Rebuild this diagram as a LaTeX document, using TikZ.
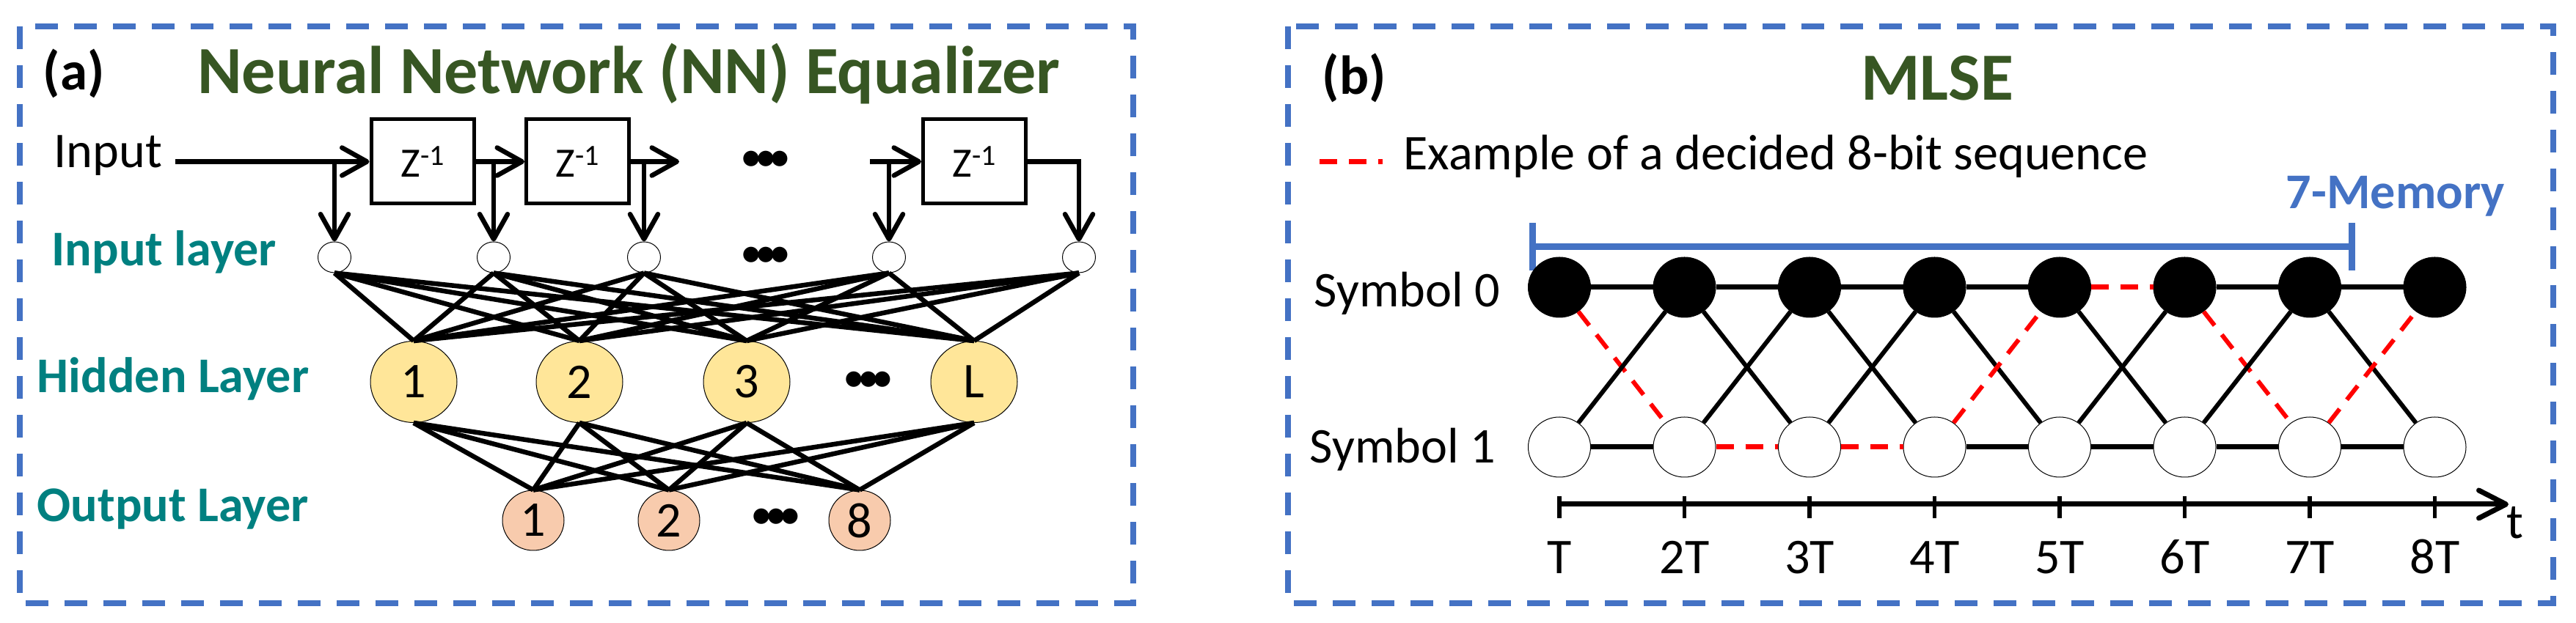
\documentclass[tikz,border=0pt]{standalone}
\usepackage{fontspec}
\setmainfont{Carlito}
\usetikzlibrary{arrows.meta,shapes.geometric}

\definecolor{titlegreen}{RGB}{55,86,35}
\definecolor{layerteal}{RGB}{0,128,128}
\definecolor{frameblue}{RGB}{68,114,196}
\definecolor{hiddenfill}{RGB}{255,230,153}
\definecolor{outfill}{RGB}{248,203,173}

\newcommand{\zinv}{Z\raisebox{1.6mm}{\fontsize{11.4pt}{13pt}\selectfont -1}}
\newcommand{\bdots}{{\fontsize{17pt}{17pt}\selectfont\textbullet\kern-1mm\textbullet\kern-1mm\textbullet}}

\tikzset{
  txt/.style={font=\fontsize{19.4pt}{23pt}\selectfont, inner sep=0pt},
  heading/.style={font=\fontsize{26.2pt}{30pt}\selectfont\bfseries, text=titlegreen, inner sep=0pt},
  tag/.style={font=\fontsize{21.3pt}{25pt}\selectfont\bfseries, inner sep=0pt},
  layer/.style={font=\fontsize{19.4pt}{23pt}\selectfont\bfseries, text=layerteal, inner sep=0pt},
  memtxt/.style={font=\fontsize{19.4pt}{23pt}\selectfont\bfseries, text=frameblue, inner sep=0pt},
  panel/.style={draw=frameblue, line width=0.8mm, dash pattern=on 3.1mm off 2.2mm},
  delay/.style={draw, line width=0.5mm, minimum width=1.40cm, minimum height=1.15cm, inner sep=0pt,
    font=\fontsize{16.2pt}{19pt}\selectfont},
  innode/.style={ellipse, draw, line width=0.1mm, minimum width=0.45cm, minimum height=0.42cm, inner sep=0pt},
  hidnode/.style={ellipse, draw, line width=0.1mm, fill=hiddenfill, minimum width=1.18cm,
    minimum height=1.11cm, inner sep=0pt, font=\fontsize{19.4pt}{23pt}\selectfont},
  outnode/.style={ellipse, draw, line width=0.1mm, fill=outfill, minimum width=0.84cm,
    minimum height=0.82cm, inner sep=0pt, font=\fontsize{19.4pt}{23pt}\selectfont},
  flow/.style={line width=0.65mm, -{Straight Barb[length=3.4mm,width=3.8mm,round]}},
  link/.style={line width=0.65mm},
  zero/.style={ellipse, draw, fill=black, line width=0.1mm, minimum width=0.85cm, minimum height=0.82cm, inner sep=0pt},
  one/.style={ellipse, draw, fill=white, line width=0.1mm, minimum width=0.85cm, minimum height=0.82cm, inner sep=0pt},
  level/.style={line width=0.7mm},
  cross/.style={line width=0.6mm},
  decided/.style={red, line width=0.7mm, dash pattern=on 2.4mm off 1.6mm},
  decidedx/.style={red, line width=0.6mm, dash pattern=on 2.4mm off 1.6mm},
  memory/.style={frameblue, line width=0.9mm, {Bar[width=6.5mm]}-{Bar[width=6.5mm]}},
  axis/.style={line width=0.7mm, -{Straight Barb[length=3.7mm,width=3.8mm,round]}},
  tick/.style={line width=0.55mm}
}

\begin{document}
\begin{tikzpicture}
  \useasboundingbox (0,0) rectangle (35.12,-8.5);

  % Panel frames
  \draw[panel] (0.27,-0.36) rectangle (15.45,-8.23);
  \draw[panel] (17.56,-0.36) rectangle (34.81,-8.23);

  % (a) NN equalizer
  \node[tag, anchor=base west] (taga) at (0.58,-1.23) {(a)};
  \node[heading, anchor=base] (nnhead) at (8.57,-1.28) {Neural Network (NN) Equalizer};

  % Tapped delay line
  \node[txt, anchor=base west] (inp) at (0.73,-2.29) {Input};
  \node[delay] (z1) at (5.76,-2.205) {\zinv};
  \node[delay] (z2) at (7.875,-2.205) {\zinv};
  \node[delay] (z3) at (13.285,-2.205) {\zinv};
  \node[txt] (tapdots) at (10.44,-2.20) {\bdots};
  \coordinate (gapA) at (9.26,-2.205);
  \coordinate (gapB) at (11.86,-2.205);

  % Input layer
  \node[layer, anchor=base west] (inlab) at (0.70,-3.63) {Input layer};
  \foreach \k/\xx in {1/4.56,2/6.73,3/8.78,4/12.12,5/14.71}
    \node[innode] (in\k) at (\xx,-3.51) {};
  \node[txt] (indots) at (10.44,-3.51) {\bdots};

  \draw[flow, shorten <=1.7mm] (inp.east |- z1.west) -- (z1.west);
  \draw[flow] (z1.east) -- (z2.west);
  \draw[flow] (z2.east) -- (gapA);
  \draw[flow] (gapB) -- (z3.west);
  \draw[flow] (z3.east) -| (in5.north);
  \foreach \k in {1,...,4}
    \draw[flow] (in\k |- z1.west) -- (in\k.north);

  % Hidden layer
  \node[layer, anchor=base west] (hidlab) at (0.50,-5.36) {Hidden Layer};
  \foreach \k/\xx in {1/5.64,2/7.90,3/10.18,L/13.28}
    \node[hidnode] (h\k) at (\xx,-5.21) {\k};
  \node[txt] (hdots) at (11.84,-5.21) {\bdots};

  % Output layer
  \node[layer, anchor=base west] (outlab) at (0.50,-7.12) {Output Layer};
  \foreach \k/\xx in {1/7.27,2/9.12,8/11.72}
    \node[outnode] (o\k) at (\xx,-7.10) {\k};
  \node[txt] (odots) at (10.58,-7.08) {\bdots};

  % Weights
  \foreach \i in {1,...,5}
    \foreach \j in {1,2,3,L}
      \draw[link] (in\i.south) -- (h\j.north);
  \foreach \j in {1,2,3,L}
    \foreach \k in {1,2,8}
      \draw[link] (h\j.south) -- (o\k.north);

  % (b) MLSE
  \node[tag, anchor=base west] (tagb) at (18.02,-1.29) {(b)};
  \node[heading, anchor=base] (mlsehead) at (26.41,-1.37) {MLSE};

  % Legend
  \coordinate (legA) at (17.99,-2.21);
  \draw[decided] (legA) -- ++(0.86,0);
  \node[txt, anchor=base west] (legtxt) at (19.13,-2.32) {Example of a decided 8-bit sequence};

  % Memory span
  \coordinate (memL) at (20.85,-3.37);
  \coordinate (memR) at (32.11,-3.37);
  \draw[memory] (memL) -- (memR);
  \node[memtxt, anchor=base west] (memlab) at (31.16,-2.85) {7-Memory};

  % Trellis
  \node[txt, anchor=base west] (sym0) at (17.91,-4.19) {Symbol 0};
  \node[txt, anchor=base west] (sym1) at (17.85,-6.32) {Symbol 1};
  \foreach \i in {1,...,8} {
    \node[zero] (zero\i) at ({21.26+1.705*(\i-1)},-3.92) {};
    \node[one] (one\i) at ({21.26+1.705*(\i-1)},-6.10) {};
  }

  \foreach \i/\j in {1/2,2/3,3/4,4/5,6/7,7/8}
    \draw[level] (zero\i) -- (zero\j);
  \draw[decided] (zero5) -- (zero6);
  \foreach \i/\j in {1/2,4/5,5/6,6/7,7/8}
    \draw[level] (one\i) -- (one\j);
  \draw[decided] (one2) -- (one3);
  \draw[decided] (one3) -- (one4);

  \foreach \i/\j in {2/3,3/4,4/5,5/6,7/8}
    \draw[cross] (zero\i) -- (one\j);
  \draw[decidedx] (zero1) -- (one2);
  \draw[decidedx] (zero6) -- (one7);
  \foreach \i/\j in {1/2,2/3,3/4,5/6,6/7}
    \draw[cross] (one\i) -- (zero\j);
  \draw[decidedx] (one4) -- (zero5);
  \draw[decidedx] (one7) -- (zero8);

  % Time axis
  \coordinate (axisL) at (21.24,-6.88);
  \coordinate (axisR) at (34.20,-6.88);
  \coordinate (tickTop) at (0,-6.77);
  \coordinate (tickBot) at (0,-7.07);
  \coordinate (labrow) at (0,-7.83);
  \draw[axis] (axisL) -- (axisR);
  \node[txt, anchor=base west] (tlab) at (34.17,-7.35) {t};
  \foreach \i/\lab in {1/T,2/2T,3/3T,4/4T,5/5T,6/6T,7/7T,8/8T} {
    \draw[tick] (one\i |- tickTop) -- (one\i |- tickBot);
    \node[txt, anchor=base] (tk\i) at (one\i |- labrow) {\lab};
  }
\end{tikzpicture}
\end{document}
